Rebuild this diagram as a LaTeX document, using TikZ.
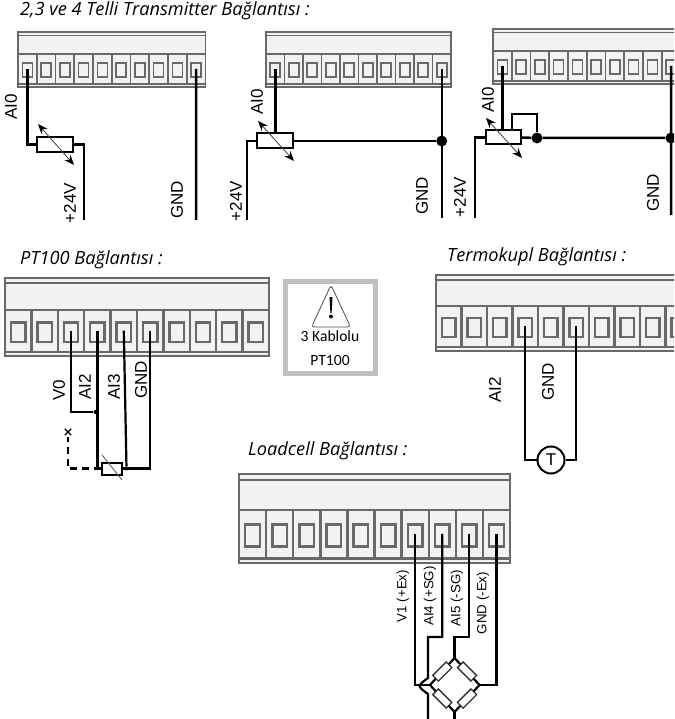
\documentclass[tikz,border=0pt]{standalone}
\usepackage{fontspec}
\usepackage{tikz}
\usetikzlibrary{shapes,arrows.meta,calc}
\newfontfamily\headfont{Open Sans}
\newfontfamily\labelfont{Liberation Sans}
\newfontfamily\notefont{Carlito}
\definecolor{blockgray}{RGB}{105,105,105}
\definecolor{blockfill}{RGB}{242,242,242}
\definecolor{framegray}{RGB}{191,191,191}
\tikzset{
  heading/.style={anchor=west, inner sep=0pt, font=\fontsize{18.2}{20}\selectfont\headfont\itshape, text=black},
  lbl/.style={rotate=90, inner sep=0pt, font=\fontsize{17}{20}\selectfont\labelfont, text=black},
  lblsmall/.style={rotate=90, inner sep=0pt, font=\fontsize{13.3}{16}\selectfont\labelfont, text=black},
  wire/.style={line width=2.5pt, black},
  wirethin/.style={line width=2.2pt, black},
  res/.style={draw=black, fill=white, line width=2pt, inner sep=0pt},
  adjust/.style={line width=0.9pt, black!70, {Stealth[length=10pt,width=8pt,black]}-{Stealth[length=10pt,width=8pt,black]}},
  junction/.style={circle, fill=black, inner sep=0pt, minimum size=11pt},
  tiny junction/.style={circle, fill=black, inner sep=0pt, minimum size=4pt},
}
% name, left, top, bottom, header bottom, cell width, line width
\newcommand{\terminalblock}[7]{
  \fill[blockfill] (#2,#3) rectangle ({#2+10*#6},#4);
  \draw[blockgray, line width=#7pt] (#2,#3) rectangle ({#2+10*#6},#4);
  \draw[blockgray, line width=0.7*#7pt] (#2,{#3+0.065*(#4-#3)}) -- ++({10*#6},0);
  \draw[blockgray, line width=#7pt] (#2,{#4-0.05*(#4-#3)}) -- ++({10*#6},0);
  \draw[blockgray, line width=#7pt] (#2,#5) -- ++({10*#6},0);
  \foreach \i in {1,...,10}{
    \draw[blockgray, line width=#7pt] ({#2+\i*#6},#5) -- ({#2+\i*#6},{#4-0.05*(#4-#3)});
    \draw[blockgray, line width=#7pt, fill=blockfill] ({#2+(\i-0.5-0.27)*#6},{#5+0.27*(#4-#5)}) rectangle ({#2+(\i-0.5+0.27)*#6},{#5+0.69*(#4-#5)});
    \coordinate (#1-\i) at ({#2+(\i-0.5)*#6},{#5+0.45*(#4-#5)});
  }
}

\begin{document}
\begin{tikzpicture}[x=1pt, y=-1pt]
\clip (0,0) rectangle (674,719);
\fill[white] (0,0) rectangle (674,719);

% Transmitter blocks
\node[heading] (headtr) at (20,11) {2,3 ve 4 Telli Transmitter Bağlantısı :};
\terminalblock{ta}{18}{32}{87}{54}{18.75}{1.6}
\terminalblock{tb}{266}{32}{87}{54}{18.5}{1.6}
\terminalblock{tc}{493}{29}{84}{51}{18.75}{1.6}

% 2 wire
\node[res, minimum width=36pt, minimum height=15pt] (resa) at (55,144.5) {};
\coordinate (enda) at (84,220);
\coordinate (endb) at (196,220);
\draw[wire] (ta-1) |- (resa.west);
\draw[wire] (resa.east) -| (enda);
\draw[wire] (ta-10) -- (endb);
\draw[adjust] (38,124) -- (74,165);
\node[lbl] (aia) at (11,107) {AI0};
\node[lbl] (pwa) at (70,203) {+24V};
\node[lbl] (gnda) at (177,200) {GND};

% 3 wire
\node[res, minimum width=36pt, minimum height=15pt] (resb) at (275,141) {};
\node[junction] (dotb) at (441.75,141) {};
\coordinate (endc) at (247,220);
\coordinate (endd) at (441.75,218);
\draw[wire] (tb-1) -- (resb.north -| tb-1);
\draw[wire] (resb.west) -| (endc);
\draw[wire] (resb.east) -- (dotb);
\draw[wire] (tb-10) -- (endd);
\draw[adjust] (258,121) -- (294,161);
\node[lbl] (aib) at (257,102) {AI0};
\node[lbl] (pwb) at (236,201) {+24V};
\node[lbl] (gndb) at (422,196) {GND};

% 4 wire
\node[res, minimum width=35pt, minimum height=14pt] (resc) at (503.5,137.5) {};
\node[junction] (dotc) at (537,138) {};
\node[junction] (dotd) at (671,138) {};
\coordinate (ende) at (475,218);
\coordinate (endf) at (671,215);
\coordinate (loopc) at (512,114);
\draw[wire] (tc-1) -- (resc.north -| tc-1);
\draw[wire] (resc.west) -| (ende);
\draw[wire] (resc.east) -- (dotc) -- (dotd);
\draw[wire] (tc-10) -- (endf);
\draw[wire] (resc.north -| loopc) -- (loopc) -| (dotc);
\draw[adjust] (486,118) -- (522,158);
\node[lbl] (aic) at (488,100) {AI0};
\node[lbl] (pwc) at (460,197) {+24V};
\node[lbl] (gndc) at (653,193) {GND};

% PT100
\node[heading] (headpt) at (20,260) {PT100 Bağlantısı :};
\terminalblock{pt}{5}{278}{356}{310}{26.4}{2.4}
\node[res, minimum width=20pt, minimum height=12pt] (respt) at (112,468.5) {};
\node[tiny junction] (dotpa) at (95.5,412) {};
\node[tiny junction] (dotpb) at (126.5,468.5) {};
\coordinate (endpt) at (68,437);
\draw[wirethin] (pt-3) |- (dotpa);
\draw[wirethin] (pt-4) |- (respt.west);
\draw[wirethin] (pt-5) -- (dotpb);
\draw[wirethin] (pt-6) |- (respt.east);
\draw[wirethin, dashed, dash pattern=on 7pt off 5pt] (respt.west) -| (endpt);
\node[cross out, draw=black, line width=1.4pt, minimum size=5pt, inner sep=0pt] (xpt) at (68,432) {};
\draw[line width=0.9pt, black!60] (102,455) -- (122,480);
\node[lbl] (vpt) at (59,390) {V0};
\node[lbl] (aipa) at (85,387) {AI2};
\node[lbl] (aipb) at (114,387) {AI3};
\node[lbl] (gndp) at (141,380) {GND};

% Warning box
\draw[framegray, line width=5pt] (285,281) rectangle (375,373);
\draw[black!70, line width=0.8pt, rounded corners=3pt] (331,285) -- (350.5,327) -- (311.5,327) -- cycle;
\fill[black] (329.5,297) -- (332.5,297) -- (331.6,313) -- (330.4,313) -- cycle;
\fill[black] (331,316.5) circle (2pt);
\node[inner sep=0pt, font=\fontsize{15.6}{18}\selectfont\notefont, text=black] (notea) at (330,336) {3 Kablolu};
\node[inner sep=0pt, font=\fontsize{15.6}{18}\selectfont\notefont, text=black] (noteb) at (330,360) {PT100};

% Thermocouple
\node[heading] (headtk) at (447,257) {Termokupl Bağlantısı :};
\terminalblock{tk}{436}{275}{351}{306}{25.5}{2.4}
\node[circle, draw=black, fill=white, line width=2pt, minimum size=27pt, inner sep=0pt, font=\fontsize{17}{20}\selectfont\labelfont] (tcp) at (551,460) {T};
\draw[wirethin] (tk-4) |- (tcp.west);
\draw[wirethin] (tk-6) |- (tcp.east);
\node[lbl] (aik) at (495,390) {AI2};
\node[lbl] (gndk) at (548,382) {GND};

% Loadcell
\node[heading] (headlc) at (248,451) {Loadcell Bağlantısı :};
\terminalblock{lc}{239}{474}{563}{510}{27.1}{2.4}
\coordinate (bt) at (454.5,658);
\coordinate (br) at (479.5,685);
\coordinate (bb) at (454.5,712);
\coordinate (bl) at (430,685);
\coordinate (kneea) at (428,637);
\coordinate (kneeb) at (454.5,637);
\coordinate (hopa) at (428,678);
\coordinate (hopm) at (417,686);
\coordinate (hopb) at (428,694);
\coordinate (lcenda) at (428,719);
\coordinate (lcendb) at (454.5,719);
\draw[wirethin] (bt) -- (br) -- (bb) -- (bl) -- cycle;
\node[res, rotate=45, minimum width=19pt, minimum height=8pt, line width=1.3pt, draw=black!80] (bra) at ($(bt)!0.5!(bl)$) {};
\node[res, rotate=-45, minimum width=19pt, minimum height=8pt, line width=1.3pt, draw=black!80] (brb) at ($(bt)!0.5!(br)$) {};
\node[res, rotate=-45, minimum width=19pt, minimum height=8pt, line width=1.3pt, draw=black!80] (brc) at ($(bl)!0.5!(bb)$) {};
\node[res, rotate=45, minimum width=19pt, minimum height=8pt, line width=1.3pt, draw=black!80] (brd) at ($(br)!0.5!(bb)$) {};
\draw[wirethin] (lc-7) |- (bl);
\draw[wirethin] (lc-8) |- (kneea) -- (hopa) .. controls (hopm) .. (hopb) -- (lcenda);
\draw[wirethin] (lc-9) |- (kneeb) -- (bt);
\draw[wirethin] (lc-10) |- (br);
\draw[wirethin] (bb) -- (lcendb);
\node[lblsmall] (vlc) at (403,596) {V1 (+Ex)};
\node[lblsmall] (aila) at (430,596) {AI4 (+SG)};
\node[lblsmall] (ailb) at (457,598) {AI5 (-SG)};
\node[lblsmall] (gndl) at (483,603) {GND (-Ex)};
\end{tikzpicture}
\end{document}
